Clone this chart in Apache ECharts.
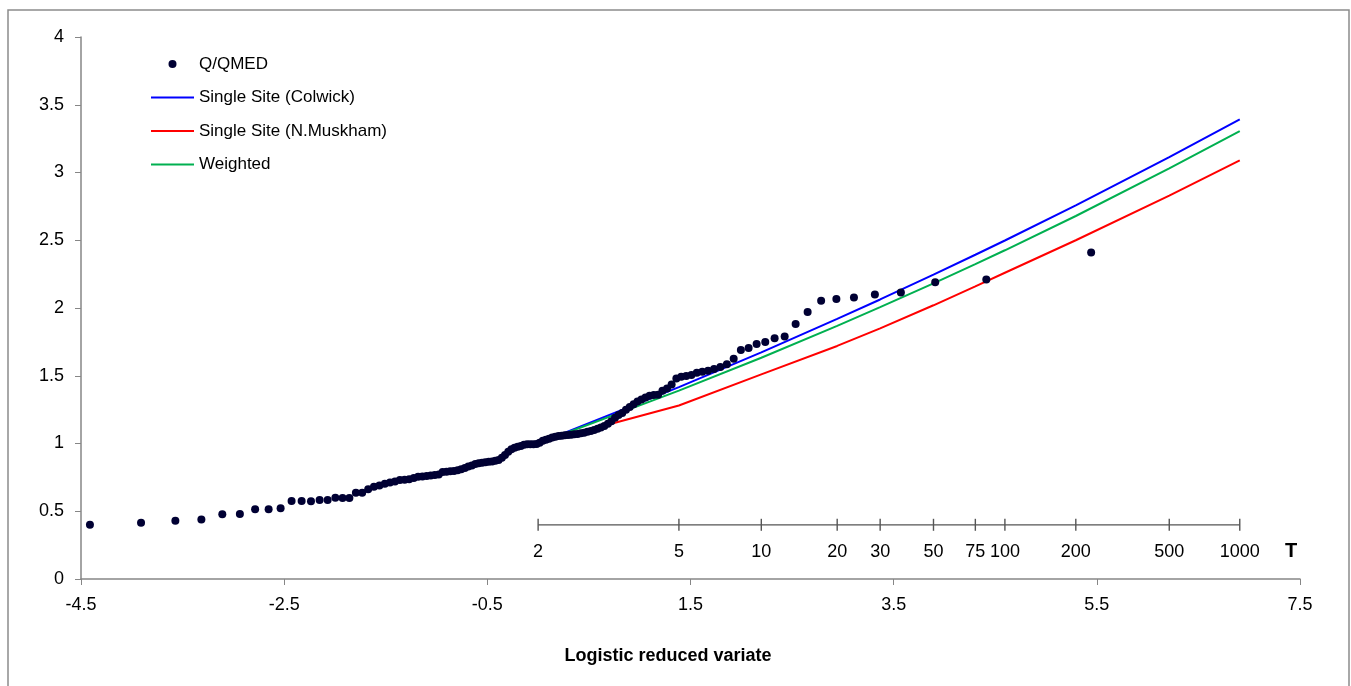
<!DOCTYPE html>
<html>
<head>
<meta charset="utf-8">
<script src="https://cdn.jsdelivr.net/npm/echarts@6/dist/echarts.min.js"></script>
<style>
html,body{margin:0;padding:0;background:#fff;}
#chart{width:1351px;height:686px;}
</style>
</head>
<body>
<div id="chart"></div>
<script>
// Observed Q/QMED points (logistic reduced variate, Q/QMED)
const obsX = [-4.412,-3.909,-3.571,-3.315,-3.109,-2.936,-2.786,-2.653,-2.535,-2.427,
  -2.328,-2.236,-2.151,-2.072,-1.996,-1.925,-1.858,-1.794,-1.732,-1.673,
  -1.616,-1.562,-1.509,-1.458,-1.409,-1.361,-1.314,-1.269,-1.224,-1.181,
  -1.139,-1.097,-1.057,-1.017,-0.978,-0.940,-0.902,-0.865,-0.828,-0.792,
  -0.757,-0.721,-0.687,-0.652,-0.618,-0.585,-0.552,-0.519,-0.486,-0.453,
  -0.421,-0.389,-0.357,-0.326,-0.294,-0.263,-0.232,-0.201,-0.170,-0.139,
  -0.108,-0.077,-0.046,-0.015,0.015,0.046,0.077,0.108,0.139,0.170,
  0.201,0.232,0.263,0.294,0.326,0.357,0.389,0.421,0.453,0.486,
  0.519,0.552,0.585,0.618,0.652,0.687,0.721,0.757,0.792,0.828,
  0.865,0.902,0.940,0.978,1.017,1.057,1.097,1.139,1.181,1.224,
  1.269,1.314,1.361,1.409,1.458,1.509,1.562,1.616,1.673,1.732,
  1.794,1.858,1.925,1.996,2.072,2.151,2.236,2.328,2.427,2.535,
  2.653,2.786,2.936,3.109,3.315,3.571,3.909,4.412,5.444];
const obsY = [0.400,0.415,0.430,0.440,0.477,0.480,0.514,0.514,0.522,0.576,
  0.576,0.574,0.583,0.583,0.599,0.598,0.597,0.636,0.637,0.662,
  0.681,0.690,0.703,0.712,0.720,0.730,0.733,0.737,0.745,0.755,
  0.757,0.760,0.763,0.768,0.772,0.790,0.792,0.795,0.797,0.802,
  0.810,0.820,0.830,0.838,0.848,0.855,0.858,0.862,0.865,0.868,
  0.872,0.878,0.895,0.915,0.940,0.957,0.968,0.976,0.982,0.990,
  0.994,0.995,0.995,0.996,1.005,1.020,1.028,1.035,1.045,1.050,
  1.055,1.058,1.060,1.063,1.065,1.068,1.070,1.075,1.080,1.087,
  1.093,1.100,1.108,1.118,1.130,1.145,1.165,1.190,1.210,1.225,
  1.250,1.270,1.290,1.310,1.325,1.340,1.352,1.358,1.360,1.390,
  1.405,1.435,1.480,1.493,1.498,1.506,1.523,1.530,1.537,1.550,
  1.565,1.585,1.625,1.690,1.705,1.735,1.749,1.776,1.790,1.882,
  1.970,2.053,2.067,2.078,2.100,2.115,2.190,2.210,2.410];

// Return period scale: labels and their reduced-variate positions
const tLabels = ['2','5','10','20','30','50','75','100','200','500','1000'];
const tPos = [0,1.386,2.197,2.944,3.367,3.892,4.304,4.595,5.293,6.213,6.907];

// Growth curves at the return periods above
const colwick  = [1.000,1.416,1.673,1.920,2.063,2.246,2.393,2.498,2.757,3.113,3.392];
const muskham  = [1.000,1.280,1.510,1.720,1.850,2.020,2.160,2.260,2.500,2.830,3.090];
const weighted = [1.000,1.390,1.633,1.868,2.006,2.182,2.324,2.426,2.679,3.030,3.306];

// Axis tick labels
const xTicks = [-4.5,-2.5,-0.5,1.5,3.5,5.5,7.5];

const T_LEVEL = 0.4;
const FONT = "'Liberation Sans', Arial, sans-serif";
const chart = echarts.init(document.getElementById('chart'), null, {renderer:'canvas'});

const axisColor = '#868686';
const hideSym = {opacity:0};
chart.setOption({
  backgroundColor:'#ffffff',
  animation:false,
  textStyle:{fontFamily:FONT},
  grid:{left:81,right:51,top:37,bottom:107,containLabel:false,outerBoundsMode:'none'},
  legend:{
    orient:'vertical', left:150, top:54, padding:0,
    itemWidth:43, itemHeight:8, itemGap:13.5,
    textStyle:{fontFamily:FONT,fontSize:17,color:'#000',lineHeight:20},
    data:[
      {name:'Q/QMED',icon:'circle'},
      {name:'Single Site (Colwick)',itemStyle:hideSym},
      {name:'Single Site (N.Muskham)',itemStyle:hideSym},
      {name:'Weighted',itemStyle:hideSym}
    ]
  },
  xAxis:{
    type:'value', min:-4.5, max:7.5,
    axisLine:{onZero:false,lineStyle:{color:axisColor,width:1.5}},
    axisTick:{show:true,length:6,customValues:xTicks,lineStyle:{color:axisColor}},
    axisLabel:{customValues:xTicks,color:'#000',fontSize:18,fontFamily:FONT,margin:17,
      formatter:v=>String(v)},
    splitLine:{show:false}
  },
  yAxis:{
    type:'value', min:0, max:4, interval:0.5,
    axisLine:{show:true,onZero:false,lineStyle:{color:axisColor,width:1.5}},
    axisTick:{show:true,length:6,lineStyle:{color:axisColor}},
    axisLabel:{color:'#000',fontSize:18,fontFamily:FONT,margin:17},
    splitLine:{show:false}
  },
  graphic:[
    {type:'rect',shape:{x:8,y:10,width:1341,height:700},style:{fill:'none',stroke:'#8c8c8c',lineWidth:1.5},silent:true,z:-10},
    {type:'text',x:668,y:656,style:{text:'Logistic reduced variate',font:"bold 18px 'Liberation Sans', Arial, sans-serif",fill:'#000',textAlign:'center',textVerticalAlign:'middle'}},
    {type:'text',x:1291,y:551,style:{text:'T',font:"bold 20px 'Liberation Sans', Arial, sans-serif",fill:'#000',textAlign:'center',textVerticalAlign:'middle'}}
  ],
  series:[
    {
      name:'T-scale', type:'line', silent:true, symbol:'none',
      data:[[tPos[0],T_LEVEL],[tPos[tPos.length-1],T_LEVEL]],
      lineStyle:{color:'#555',width:1.3}, z:1
    },
    {
      name:'T-ticks', type:'scatter', silent:true, symbol:'rect', symbolSize:[1.4,12],
      data:tPos.map(x=>[x,T_LEVEL]),
      itemStyle:{color:'#555',opacity:1},
      label:{show:true,position:'bottom',distance:12,color:'#000',fontSize:18,fontFamily:FONT,
        formatter:p=>tLabels[p.dataIndex]}, z:1
    },
    {
      name:'Single Site (Colwick)', type:'line', showSymbol:false, symbol:'none',
      data:tPos.map((x,i)=>[x,colwick[i]]),
      lineStyle:{color:'#0000ff',width:2}, itemStyle:{color:'#0000ff'}, z:2
    },
    {
      name:'Single Site (N.Muskham)', type:'line', showSymbol:false, symbol:'none',
      data:tPos.map((x,i)=>[x,muskham[i]]),
      lineStyle:{color:'#ff0000',width:2}, itemStyle:{color:'#ff0000'}, z:2
    },
    {
      name:'Weighted', type:'line', showSymbol:false, symbol:'none',
      data:tPos.map((x,i)=>[x,weighted[i]]),
      lineStyle:{color:'#00b050',width:2}, itemStyle:{color:'#00b050'}, z:2
    },
    {
      name:'Q/QMED', type:'scatter', symbol:'circle', symbolSize:8,
      data:obsX.map((x,i)=>[x,obsY[i]]),
      itemStyle:{color:'#000033',opacity:1}, z:3
    }
  ]
});
</script>
</body>
</html>
